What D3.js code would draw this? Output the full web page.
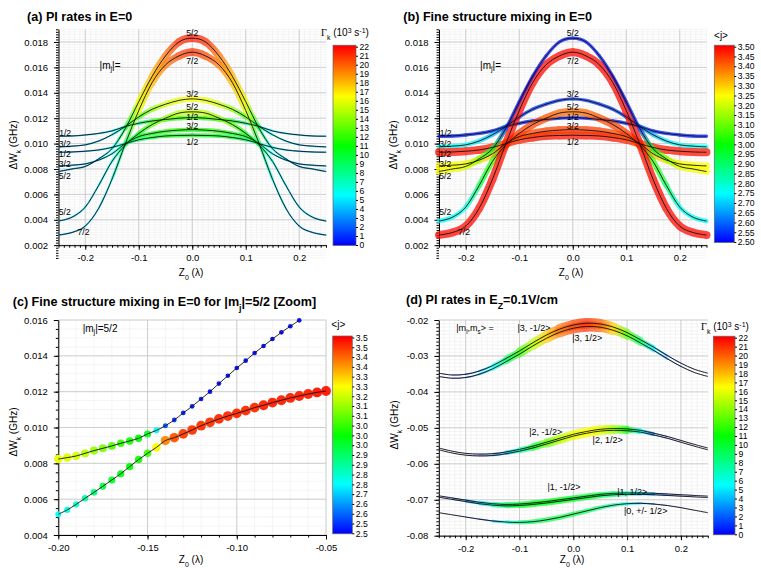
<!DOCTYPE html>
<html>
<head>
<meta charset="utf-8">
<script src="https://cdn.jsdelivr.net/npm/d3@7"></script>
<style>
  body { margin: 0; background: #fff; }
  svg { font-family: "Liberation Sans", Arial, sans-serif; }
  .axis .domain { stroke: #000; stroke-width: 1; }
  .axis line { stroke: #000; }
  .axis text { font-size: 9.5px; fill: #000; }
  .cbar text { font-size: 8.6px; fill: #000; }
</style>
</head>
<body>
<svg id="chart" width="761" height="571"></svg>
<script>
// ---- data ----
const Z = [-0.25, -0.225, -0.2, -0.175, -0.15, -0.125, -0.1, -0.075, -0.05, -0.025, 0,
           0.025, 0.05, 0.075, 0.1, 0.125, 0.15, 0.175, 0.2, 0.225, 0.25];

// E=0 energy levels (GHz), panels (a) and (b)
const W_A = [0.01058, 0.0106, 0.01068, 0.0108, 0.011, 0.01135, 0.0116, 0.01178, 0.0119, 0.012, 0.01205, 0.012, 0.0119, 0.01178, 0.0116, 0.01135, 0.011, 0.0108, 0.01068, 0.0106, 0.01058];
const W_B = [0.00974, 0.0098, 0.0099, 0.0102, 0.0107, 0.01135, 0.0121, 0.0127, 0.0131, 0.0134, 0.01352, 0.0134, 0.0131, 0.0127, 0.0121, 0.01135, 0.0107, 0.0102, 0.0099, 0.0098, 0.00974];
const W_C = [0.00932, 0.00934, 0.0094, 0.0095, 0.0097, 0.01, 0.0103, 0.01048, 0.0106, 0.01064, 0.01066, 0.01064, 0.0106, 0.01048, 0.0103, 0.01, 0.0097, 0.0095, 0.0094, 0.00934, 0.00932];
const W_D = [0.00824, 0.0083, 0.0084, 0.0087, 0.0092, 0.01, 0.01055, 0.0108, 0.01097, 0.01106, 0.0111, 0.01106, 0.01097, 0.0108, 0.01055, 0.01, 0.0092, 0.0087, 0.0084, 0.0083, 0.00824];
const W_E = [0.0078, 0.008, 0.0082, 0.0088, 0.0096, 0.0112, 0.0133, 0.0153, 0.0169, 0.018, 0.0183, 0.018, 0.0169, 0.0153, 0.0133, 0.0112, 0.0096, 0.0088, 0.0082, 0.008, 0.0078];
const W_F = [0.0039, 0.0042, 0.005, 0.0067, 0.0086, 0.0099, 0.0108, 0.0115, 0.012, 0.0124, 0.0125, 0.0124, 0.012, 0.0115, 0.0108, 0.0099, 0.0086, 0.0067, 0.005, 0.0042, 0.0039];
const W_G = [0.0028, 0.003, 0.0035, 0.0049, 0.0072, 0.01, 0.0126, 0.0148, 0.0162, 0.0169, 0.0172, 0.0169, 0.0162, 0.0148, 0.0126, 0.01, 0.0072, 0.0049, 0.0035, 0.003, 0.0028];

// PI rates (10^3 s^-1), panel (a)
const R_A = [4, 4, 4, 4.5, 5, 6.5, 8.5, 10.5, 11.5, 12, 12.5, 12, 11.5, 10.5, 8.5, 6.5, 5, 4.5, 4, 4, 4];
const R_B = [4, 4, 4, 4.5, 5, 7, 12, 14, 15.5, 16, 16.5, 16, 15.5, 14, 12, 7, 5, 4.5, 4, 4, 4];
const R_C = [4, 4, 4, 4.5, 5.5, 7, 9, 10, 10.5, 10.5, 10.5, 10.5, 10.5, 10, 9, 7, 5.5, 4.5, 4, 4, 4];
const R_D = [4, 4, 4, 4.5, 5.5, 8, 10, 11, 11.5, 11.5, 11.5, 11.5, 11.5, 11, 10, 8, 5.5, 4.5, 4, 4, 4];
const R_E = [4, 4, 4, 4.5, 5.5, 10, 16, 18, 19.5, 21, 21.5, 21, 19.5, 18, 16, 10, 5.5, 4.5, 4, 4, 4];
const R_F = [4.5, 4.5, 4.5, 5, 6, 9, 11, 13, 14, 15, 15.5, 15, 14, 13, 11, 9, 6, 5, 4.5, 4.5, 4.5];
const R_G = [4, 4, 4, 4.5, 6, 9, 16, 18, 19.5, 20.5, 21, 20.5, 19.5, 18, 16, 9, 6, 4.5, 4, 4, 4];

// <j>, panel (b)
const J_A = [2.53, 2.53, 2.53, 2.53, 2.53, 2.54, 2.53, 2.52, 2.52, 2.52, 2.52, 2.52, 2.52, 2.52, 2.53, 2.54, 2.53, 2.53, 2.53, 2.53, 2.53];
const J_B = [2.76, 2.76, 2.75, 2.73, 2.68, 2.6, 2.56, 2.55, 2.55, 2.55, 2.55, 2.55, 2.55, 2.55, 2.56, 2.6, 2.68, 2.73, 2.75, 2.76, 2.76];
const J_C = [3.48, 3.48, 3.48, 3.48, 3.47, 3.45, 3.47, 3.48, 3.48, 3.48, 3.48, 3.48, 3.48, 3.48, 3.47, 3.45, 3.47, 3.48, 3.48, 3.48, 3.48];
const J_D = [3.25, 3.25, 3.26, 3.28, 3.32, 3.38, 3.42, 3.43, 3.44, 3.44, 3.44, 3.44, 3.44, 3.43, 3.42, 3.38, 3.32, 3.28, 3.26, 3.25, 3.25];
const J_E = [3.25, 3.24, 3.22, 3.12, 2.97, 2.54, 2.52, 2.52, 2.52, 2.52, 2.52, 2.52, 2.52, 2.52, 2.52, 2.54, 2.97, 3.12, 3.22, 3.24, 3.25];
const J_F = [2.75, 2.76, 2.77, 2.92, 3.06, 3.43, 3.44, 3.43, 3.42, 3.4, 3.39, 3.4, 3.42, 3.43, 3.44, 3.43, 3.06, 2.92, 2.77, 2.76, 2.75];
const J_G = [3.49, 3.49, 3.49, 3.49, 3.49, 3.48, 3.49, 3.49, 3.49, 3.49, 3.49, 3.49, 3.49, 3.49, 3.49, 3.48, 3.49, 3.49, 3.49, 3.49, 3.49];

// panel (c) zoom, |mj|=5/2
const ZC_UP = [-0.2, -0.195, -0.19, -0.185, -0.18, -0.175, -0.17, -0.165, -0.16, -0.155, -0.15, -0.145, -0.14, -0.135,
               -0.13, -0.125, -0.12, -0.115, -0.11, -0.105, -0.1, -0.095, -0.09, -0.085, -0.08, -0.075, -0.07, -0.065];
const WC_UP = [0.00824, 0.00832, 0.00841, 0.00856, 0.00871, 0.00884, 0.00897, 0.00912, 0.00925, 0.0094, 0.00964, 0.00984, 0.0101, 0.01042,
               0.01081, 0.01118, 0.01159, 0.012, 0.01245, 0.01289, 0.01332, 0.01373, 0.01416, 0.01455, 0.01494, 0.01531, 0.01565, 0.01598];
const JC_UP = [3.23, 3.22, 3.21, 3.18, 3.15, 3.12, 3.08, 3.05, 3.02, 3.0, 2.97, 2.76, 2.58, 2.54,
               2.53, 2.52, 2.52, 2.51, 2.51, 2.51, 2.51, 2.51, 2.51, 2.51, 2.51, 2.51, 2.51, 2.51];
const ZC_LO = [-0.2, -0.195, -0.19, -0.185, -0.18, -0.175, -0.17, -0.165, -0.16, -0.155, -0.15, -0.145, -0.14, -0.135, -0.13, -0.125,
               -0.12, -0.115, -0.11, -0.105, -0.1, -0.095, -0.09, -0.085, -0.08, -0.075, -0.07, -0.065, -0.06, -0.055, -0.05];
const WC_LO = [0.00516, 0.0054, 0.00571, 0.00605, 0.00638, 0.00672, 0.00707, 0.00742, 0.00782, 0.00821, 0.00856, 0.00889, 0.00927, 0.00943, 0.00964, 0.00986,
               0.0101, 0.01029, 0.01048, 0.01064, 0.01079, 0.01094, 0.01111, 0.01124, 0.01139, 0.01152, 0.01165, 0.01176, 0.01187, 0.01196, 0.01204];
const JC_LO = [2.76, 2.78, 2.8, 2.84, 2.88, 2.93, 2.96, 2.98, 3.0, 3.02, 3.06, 3.25, 3.37, 3.42, 3.44, 3.45,
               3.45, 3.45, 3.46, 3.46, 3.46, 3.46, 3.46, 3.47, 3.47, 3.47, 3.47, 3.47, 3.47, 3.48, 3.48];

// panel (d), Ez = 0.1 V/cm
const WD_3M = [-0.0348, -0.0353, -0.0351, -0.0342, -0.0327, -0.0307, -0.0286, -0.0263, -0.0242, -0.0225, -0.0214, -0.0209, -0.0211, -0.022, -0.0235, -0.0255, -0.0276, -0.0299, -0.032, -0.0337, -0.0348];
const WD_3P = [-0.0357, -0.0362, -0.036, -0.0351, -0.0336, -0.0316, -0.0295, -0.0272, -0.0251, -0.0234, -0.0223, -0.0218, -0.022, -0.0229, -0.0244, -0.0264, -0.0285, -0.0308, -0.0329, -0.0346, -0.0357];
const WD_2M = [-0.0556, -0.0565, -0.0571, -0.0573, -0.0572, -0.0567, -0.056, -0.0551, -0.054, -0.0529, -0.0518, -0.051, -0.0504, -0.0502, -0.0503, -0.0507, -0.0515, -0.0524, -0.0535, -0.0546, -0.0556];
const WD_2P = [-0.0561, -0.057, -0.0576, -0.0578, -0.0577, -0.0572, -0.0565, -0.0556, -0.0545, -0.0534, -0.0523, -0.0515, -0.0509, -0.0507, -0.0508, -0.0512, -0.052, -0.0529, -0.054, -0.0551, -0.0561];
const WD_1M = [-0.0689, -0.0695, -0.0701, -0.0707, -0.0711, -0.0713, -0.0712, -0.0709, -0.0705, -0.07, -0.0695, -0.069, -0.0685, -0.0682, -0.0681, -0.0681, -0.0682, -0.0684, -0.0686, -0.0688, -0.069];
const WD_1P = [-0.0693, -0.0699, -0.0705, -0.0711, -0.0715, -0.0717, -0.0716, -0.0713, -0.0709, -0.0704, -0.0699, -0.0694, -0.0689, -0.0686, -0.0685, -0.0685, -0.0686, -0.0688, -0.069, -0.0692, -0.0694];
const WD_0 = [-0.0736, -0.0742, -0.0748, -0.0754, -0.0759, -0.0762, -0.0763, -0.0761, -0.0756, -0.0749, -0.074, -0.0731, -0.0722, -0.0715, -0.0711, -0.071, -0.0712, -0.0716, -0.0722, -0.0729, -0.0736];
const RD_3 = [0.5, 1, 2, 3.5, 5.5, 8.5, 12, 15, 17.5, 19.5, 20.5, 21, 20, 17.5, 13, 9, 5, 2.5, 1, 0.5, 0.5];
const RD_2 = [0.3, 0.3, 0.5, 1, 2, 4, 7, 10, 13, 15, 16, 16.5, 16, 14.5, 11, 6, 2.5, 1, 0.5, 0.3, 0.3];
const RD_1 = [0.5, 1, 2.5, 4.5, 7, 9, 10, 10.5, 10.5, 10.5, 10, 10, 9.5, 8.5, 7, 5, 3, 1.5, 0.8, 0.5, 0.5];
const RD_0 = [0.3, 0.3, 0.5, 1.5, 3.5, 6, 8, 9, 9.5, 9.5, 9.5, 9, 8.5, 7.5, 6, 4, 2, 1, 0.5, 0.3, 0.3];

// ticks
const X_TICKS = [-0.2, -0.1, 0, 0.1, 0.2];
const Y_TICKS_AB = [0.002, 0.004, 0.006, 0.008, 0.01, 0.012, 0.014, 0.016, 0.018];
const X_TICKS_C = [-0.2, -0.15, -0.1, -0.05];
const Y_TICKS_C = [0.004, 0.006, 0.008, 0.01, 0.012, 0.014, 0.016];
const Y_TICKS_D = [-0.08, -0.07, -0.06, -0.05, -0.04, -0.03, -0.02];
const RATE_TICKS = d3.range(0, 23);
const J_TICKS = d3.range(21).map(i => 2.5 + i * 0.05);
const J_LABELS_C = ['2.5', '2.5', '2.6', '2.6', '2.7', '2.8', '2.8', '2.9', '2.9', '3.0', '3.0', '3.0', '3.1', '3.1', '3.2', '3.3', '3.3', '3.4', '3.4', '3.5', '3.5'];

// curve labels (text, z, W)
const LABELS_E0 = [
  ['1/2', -0.2375, 0.01086], ['3/2', -0.2382, 0.00995], ['1/2', -0.2382, 0.00916], ['3/2', -0.2382, 0.00839],
  ['5/2', -0.2382, 0.00742], ['5/2', -0.2382, 0.00461], ['7/2', -0.2032, 0.00306],
  ['5/2', 0, 0.01869], ['7/2', 0, 0.0165], ['3/2', 0, 0.01392], ['5/2', 0, 0.01288], ['1/2', 0, 0.01211],
  ['3/2', 0, 0.01136], ['1/2', 0, 0.01013]
];
const LABELS_D = [
  ['|3, -1/2>', -0.073, -0.02214], ['|3, 1/2>', 0.026, -0.02509], ['|2, -1/2>', -0.0513, -0.05107],
  ['|2, 1/2>', 0.0639, -0.05338], ['|1, -1/2>', -0.0173, -0.06654], ['|1, 1/2>', 0.1097, -0.06776],
  ['|0, +/- 1/2>', 0.1346, -0.07313]
];

// ---- drawing ----
const RAINBOW = ['#0000ff', '#00ffff', '#00ff00', '#ffff00', '#ff0000'];
const rateColor = d3.scaleLinear().domain([0, 5.5, 11, 16.5, 22]).range(RAINBOW).clamp(true);
const jColor = d3.scaleLinear().domain([2.5, 2.75, 3, 3.25, 3.5]).range(RAINBOW).clamp(true);

const svg = d3.select('#chart');
const defs = svg.append('defs');

function richText(g, parts, x, y, size, opts = {}) {
  const t = g.append('text').attr('x', x).attr('y', y)
    .attr('font-size', size)
    .attr('text-anchor', opts.anchor || 'start')
    .attr('font-weight', opts.bold ? 'bold' : null);
  if (opts.rotate) t.attr('transform', `rotate(-90,${x},${y})`);
  if (opts.middle) t.attr('dominant-baseline', 'central');
  parts.forEach(p => {
    const [s, kind, fam] = Array.isArray(p) ? p : [p];
    const ts = t.append('tspan').text(s);
    if (kind === 'sub') ts.attr('baseline-shift', 'sub').attr('font-size', size * 0.7);
    if (kind === 'sup') ts.attr('baseline-shift', 'super').attr('font-size', size * 0.7);
    if (fam) ts.attr('font-family', fam);
  });
  return t;
}

function makeFrame(p) {
  const x = d3.scaleLinear().domain(p.xDomain).range([p.left, p.right]);
  const y = d3.scaleLinear().domain(p.yDomain).range([p.bottom, p.top]);
  const g = svg.append('g');

  const grid = g.append('g');
  grid.selectAll('line.mx').data(p.xMinor).join('line')
    .attr('x1', d => x(d)).attr('x2', d => x(d)).attr('y1', p.top).attr('y2', p.bottom)
    .attr('stroke', '#efefef').attr('stroke-width', 0.6);
  grid.selectAll('line.my').data(p.yMinor).join('line')
    .attr('y1', d => y(d)).attr('y2', d => y(d)).attr('x1', p.left).attr('x2', p.right)
    .attr('stroke', '#efefef').attr('stroke-width', 0.6);
  grid.selectAll('line.gx').data(p.xTicks).join('line')
    .attr('x1', d => x(d)).attr('x2', d => x(d)).attr('y1', p.top).attr('y2', p.bottom)
    .attr('stroke', '#c4c4c4').attr('stroke-width', 0.8);
  grid.selectAll('line.gy').data(p.yTicks).join('line')
    .attr('y1', d => y(d)).attr('y2', d => y(d)).attr('x1', p.left).attr('x2', p.right)
    .attr('stroke', '#c4c4c4').attr('stroke-width', 0.8);

  const gx = g.append('g').attr('class', 'axis').attr('transform', `translate(0,${p.bottom})`);
  gx.call(d3.axisBottom(x).tickValues(p.xMinor).tickSize(2.5).tickSizeOuter(0).tickFormat(''));
  gx.append('g').call(d3.axisBottom(x).tickValues(p.xTicks).tickSize(4.5).tickSizeOuter(0)
    .tickPadding(5).tickFormat(p.xFormat)).select('.domain').remove();

  const gy = g.append('g').attr('class', 'axis').attr('transform', `translate(${p.left},0)`);
  gy.call(d3.axisLeft(y).tickValues(p.yMinor).tickSize(2.5).tickSizeOuter(0).tickFormat(''));
  gy.append('g').call(d3.axisLeft(y).tickValues(p.yTicks).tickSize(4.5).tickSizeOuter(0)
    .tickPadding(6).tickFormat(p.yFormat)).select('.domain').remove();

  return { g, x, y };
}

// thick coloured band along a cardinal curve, colour varying point to point
let gradId = 0;
function band(g, x, y, zs, ws, vs, color, width, opacity = 0.72) {
  const P = zs.map((z, i) => [x(z), y(ws[i])]);
  const grp = g.append('g').attr('opacity', opacity);
  for (let i = 0; i < P.length - 1; i++) {
    const p0 = P[Math.max(i - 1, 0)], p1 = P[i], p2 = P[i + 1], p3 = P[Math.min(i + 2, P.length - 1)];
    const c1 = [p1[0] + (p2[0] - p0[0]) / 6, p1[1] + (p2[1] - p0[1]) / 6];
    const c2 = [p2[0] - (p3[0] - p1[0]) / 6, p2[1] - (p3[1] - p1[1]) / 6];
    const id = `bg${gradId++}`;
    const lg = defs.append('linearGradient').attr('id', id)
      .attr('gradientUnits', 'userSpaceOnUse')
      .attr('x1', p1[0]).attr('y1', p1[1]).attr('x2', p2[0]).attr('y2', p2[1]);
    lg.append('stop').attr('offset', 0).attr('stop-color', color(vs[i]));
    lg.append('stop').attr('offset', 1).attr('stop-color', color(vs[i + 1]));
    grp.append('path')
      .attr('d', `M${p1}C${c1} ${c2} ${p2}`)
      .attr('fill', 'none')
      .attr('stroke', `url(#${id})`)
      .attr('stroke-width', (width(vs[i]) + width(vs[i + 1])) / 2)
      .attr('stroke-linecap', 'round');
  }
}

function blackLine(g, x, y, zs, ws) {
  const line = d3.line().x(d => x(d[0])).y(d => y(d[1])).curve(d3.curveCardinal.tension(0));
  g.append('path').attr('d', line(d3.zip(zs, ws)))
    .attr('fill', 'none').attr('stroke', '#111').attr('stroke-width', 0.9);
}

function colorbar(c) {
  const s = d3.scaleLinear().domain(c.domain).range([c.bottom, c.top]);
  const id = `cb${gradId++}`;
  const lg = defs.append('linearGradient').attr('id', id).attr('gradientUnits', 'userSpaceOnUse')
    .attr('x1', 0).attr('x2', 0).attr('y1', s(c.domain[0])).attr('y2', s(c.domain[1]));
  RAINBOW.forEach((col, i) => lg.append('stop').attr('offset', i / 4).attr('stop-color', col));
  svg.append('rect').attr('x', c.x).attr('y', s(c.domain[1]) - 1.5)
    .attr('width', c.w).attr('height', s(c.domain[0]) - s(c.domain[1]) + 2)
    .attr('fill', `url(#${id})`).attr('stroke', '#666').attr('stroke-width', 0.7);
  const ax = svg.append('g').attr('class', 'axis cbar').attr('transform', `translate(${c.x + c.w},0)`)
    .call(d3.axisRight(s).tickValues(c.ticks).tickSize(2).tickPadding(1.5).tickFormat(c.format));
  ax.select('.domain').remove();
}

const E0_CURVES = [
  { w: W_A, r: R_A, j: J_A }, { w: W_B, r: R_B, j: J_B }, { w: W_C, r: R_C, j: J_C },
  { w: W_D, r: R_D, j: J_D }, { w: W_F, r: R_F, j: J_F }, { w: W_G, r: R_G, j: J_G },
  { w: W_E, r: R_E, j: J_E }
];

const xMinorE0 = d3.range(-25, 26).map(i => i / 100);
const rateWidth = v => v * 0.37;
const jWidth = v => 3.2 + (v - 2.5) * 4.8;

function e0Panel(left, right, key) {
  const f = makeFrame({
    left, right, top: 29.3, bottom: 245.2,
    xDomain: [-0.25, 0.25], yDomain: [0.002, 0.019],
    xTicks: X_TICKS, yTicks: Y_TICKS_AB,
    xMinor: xMinorE0, yMinor: d3.range(5, 96).map(i => i * 0.0002),
    xFormat: d => d.toFixed(1), yFormat: d => d.toFixed(3)
  });
  E0_CURVES.forEach(c => {
    if (key === 'rate') band(f.g, f.x, f.y, Z, c.w, c.r, rateColor, rateWidth);
    else band(f.g, f.x, f.y, Z, c.w, c.j, jColor, jWidth, 0.75);
  });
  E0_CURVES.forEach(c => blackLine(f.g, f.x, f.y, Z, c.w));
  LABELS_E0.forEach(([t, z, w]) => {
    f.g.append('text').attr('x', f.x(z)).attr('y', f.y(w)).attr('text-anchor', 'middle')
      .attr('dominant-baseline', 'central').attr('font-size', 8.6).text(t);
  });
  richText(f.g, ['|m', ['j', 'sub'], '|='], f.x(-0.1536), f.y(0.01619), 10, { anchor: 'middle', middle: true });
  return f;
}

// (a)
e0Panel(58.5, 326, 'rate');
richText(svg, ['(a) PI rates in E=0'], 27, 20.5, 12.6, { bold: true });
richText(svg, ['ΔW', ['k', 'sub'], ' (GHz)'], 16.5, 145, 10, { anchor: 'middle', rotate: true });
richText(svg, ['Z', ['0', 'sub'], ' (λ)'], 191, 276, 10, { anchor: 'middle' });
colorbar({ x: 333, w: 23, top: 46.7, bottom: 245, domain: [0, 22], ticks: RATE_TICKS, format: d => d });
richText(svg, [['Γ', null, 'Liberation Serif'], ['k', 'sub'], ' (10', ['3', 'sup'], ' s', ['-1', 'sup'], ')'], 345, 36, 10, { anchor: 'middle' });

// (b)
e0Panel(439, 706.5, 'j');
richText(svg, ['(b) Fine structure mixing in E=0'], 403.3, 20.5, 12.6, { bold: true });
richText(svg, ['ΔW', ['k', 'sub'], ' (GHz)'], 396.5, 145, 10, { anchor: 'middle', rotate: true });
richText(svg, ['Z', ['0', 'sub'], ' (λ)'], 571, 276, 10, { anchor: 'middle' });
colorbar({ x: 714.3, w: 20, top: 46.7, bottom: 242, domain: [2.5, 3.5], ticks: J_TICKS, format: d => d.toFixed(2) });
richText(svg, ['<j>'], 721, 39, 10, { anchor: 'middle' });

// (c)
{
  const f = makeFrame({
    left: 58.3, right: 326, top: 320, bottom: 535,
    xDomain: [-0.2, -0.05], yDomain: [0.004, 0.016],
    xTicks: X_TICKS_C, yTicks: Y_TICKS_C,
    xMinor: d3.range(-20, -4).map(i => i / 100), yMinor: d3.range(8, 33).map(i => i * 0.0005),
    xFormat: d => d.toFixed(2), yFormat: d => d.toFixed(3)
  });
  const rj = v => 2.3 + (v - 2.5) * 2.7;
  [[ZC_UP, WC_UP, JC_UP], [ZC_LO, WC_LO, JC_LO]].forEach(([zs, ws, js]) => {
    f.g.append('g').selectAll('circle').data(d3.zip(zs, ws, js)).join('circle')
      .attr('cx', d => f.x(d[0])).attr('cy', d => f.y(d[1])).attr('r', d => rj(d[2]))
      .attr('fill', d => jColor(d[2])).attr('opacity', 0.95);
  });
  blackLine(f.g, f.x, f.y, ZC_UP, WC_UP);
  blackLine(f.g, f.x, f.y, ZC_LO, WC_LO);
  richText(f.g, ['|m', ['j', 'sub'], '|=5/2'], f.x(-0.1766), f.y(0.01557), 10, { anchor: 'middle', middle: true });
}
richText(svg, ['(c) Fine structure mixing in E=0 for |m', ['j', 'sub'], '|=5/2 [Zoom]'], 12.7, 306, 12.6, { bold: true });
richText(svg, ['ΔW', ['k', 'sub'], ' (GHz)'], 16.5, 432, 10, { anchor: 'middle', rotate: true });
richText(svg, ['Z', ['0', 'sub'], ' (λ)'], 191, 563, 10, { anchor: 'middle' });
colorbar({ x: 332.7, w: 19.6, top: 337.5, bottom: 533.3, domain: [2.5, 3.5], ticks: J_TICKS, format: (d, i) => J_LABELS_C[i] });
richText(svg, ['<j>'], 338.3, 327.5, 10, { anchor: 'middle' });

// (d)
{
  const f = makeFrame({
    left: 438.8, right: 707.8, top: 320, bottom: 535.7,
    xDomain: [-0.25, 0.25], yDomain: [-0.08, -0.02],
    xTicks: X_TICKS, yTicks: Y_TICKS_D,
    xMinor: xMinorE0, yMinor: d3.range(-80, -19).map(i => i / 1000),
    xFormat: d => d.toFixed(1), yFormat: d => d.toFixed(2)
  });
  const dw = v => v * 0.5;
  const pairs = [[WD_0, RD_0], [WD_1M, RD_1], [WD_1P, RD_1], [WD_2M, RD_2], [WD_2P, RD_2], [WD_3M, RD_3], [WD_3P, RD_3]];
  pairs.forEach(([w, r]) => band(f.g, f.x, f.y, Z, w, r, rateColor, dw, 0.7));
  pairs.forEach(([w]) => blackLine(f.g, f.x, f.y, Z, w));
  LABELS_D.forEach(([t, z, w]) => {
    f.g.append('text').attr('x', f.x(z)).attr('y', f.y(w)).attr('text-anchor', 'middle')
      .attr('dominant-baseline', 'central').attr('font-size', 9).text(t);
  });
  richText(f.g, ['|m', ['l', 'sub'], ',m', ['s', 'sub'], '> ='], f.x(-0.1827), f.y(-0.02214), 9, { anchor: 'middle', middle: true });
}
richText(svg, ['(d) PI rates in E', ['Z', 'sub'], '=0.1V/cm'], 406, 304, 12.6, { bold: true });
richText(svg, ['ΔW', ['k', 'sub'], ' (GHz)'], 398, 425, 10, { anchor: 'middle', rotate: true });
richText(svg, ['Z', ['0', 'sub'], ' (λ)'], 572, 563, 10, { anchor: 'middle' });
colorbar({ x: 713.3, w: 21.7, top: 337.7, bottom: 534.3, domain: [0, 22], ticks: RATE_TICKS, format: d => d });
richText(svg, [['Γ', null, 'Liberation Serif'], ['k', 'sub'], ' (10', ['3', 'sup'], ' s', ['-1', 'sup'], ')'], 725, 330, 10, { anchor: 'middle' });
</script>
</body>
</html>
